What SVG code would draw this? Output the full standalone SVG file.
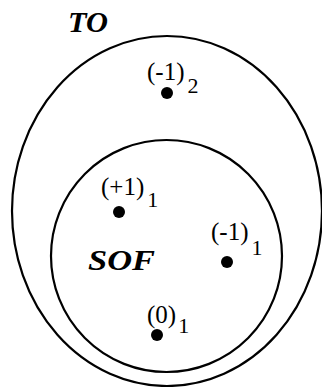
<svg xmlns="http://www.w3.org/2000/svg" width="322" height="387" viewBox="0 0 322 387">
<style>
.set{fill:none;stroke:#000;stroke-width:2.2}
.dot{fill:#000}
.lbl{font-family:"Liberation Serif",serif;font-size:25px;fill:#000}
.sub{font-size:22px}
.name{font-family:"Liberation Serif",serif;font-size:30px;font-weight:bold;font-style:italic;fill:#000}
</style>
<g id="TO">
<ellipse class="set" cx="167" cy="211" rx="155" ry="175"/>
<text class="name" x="68" y="32" textLength="40" lengthAdjust="spacingAndGlyphs">TO</text>
</g>
<g id="SOF">
<ellipse class="set" cx="166.5" cy="256" rx="115.5" ry="116"/>
<text class="name" x="88" y="270" textLength="67" lengthAdjust="spacingAndGlyphs">SOF</text>
</g>
<g id="m1_2">
<circle class="dot" cx="167" cy="93" r="6"/>
<text class="lbl" x="147" y="80">(-1)<tspan class="sub" dx="3" dy="13">2</tspan></text>
</g>
<g id="p1_1">
<circle class="dot" cx="119" cy="212" r="6"/>
<text class="lbl" x="101" y="195">(+1)<tspan class="sub" dx="3" dy="12">1</tspan></text>
</g>
<g id="m1_1">
<circle class="dot" cx="227" cy="262" r="6"/>
<text class="lbl" x="211" y="240">(-1)<tspan class="sub" dx="3" dy="15">1</tspan></text>
</g>
<g id="z_1">
<circle class="dot" cx="157" cy="335" r="6"/>
<text class="lbl" x="147" y="323">(0)<tspan class="sub" dx="2" dy="10">1</tspan></text>
</g>
<g id="connectors"/>
</svg>
